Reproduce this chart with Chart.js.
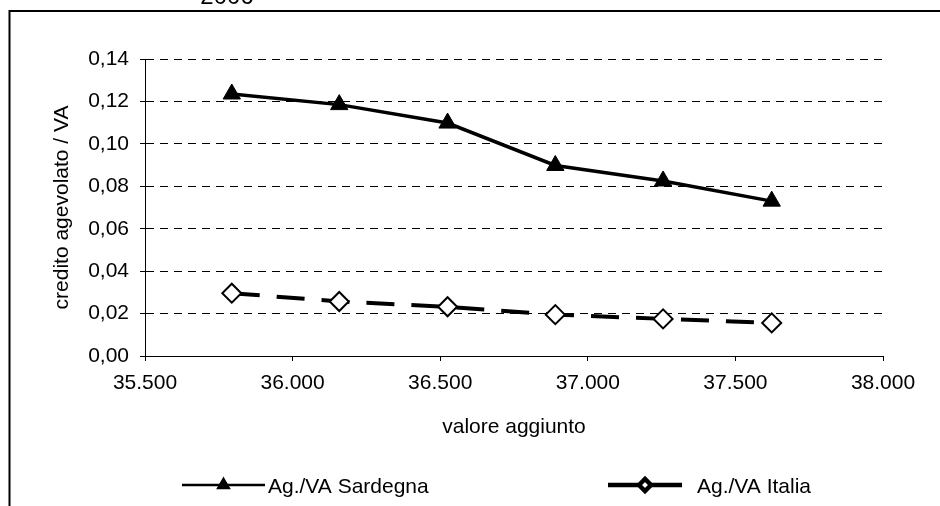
<!DOCTYPE html>
<html>
<head>
<meta charset="utf-8">
<title>credito agevolato / VA</title>
<script src="https://cdn.jsdelivr.net/npm/chart.js@4.4.1/dist/chart.umd.min.js"></script>
<style>
    html, body { margin: 0; padding: 0; background: #fff; overflow: hidden; }
    #wrap { position: relative; width: 940px; height: 506px; }
</style>
</head>
<body>
<div id="wrap"><canvas id="creditChart" width="940" height="506"></canvas></div>
<script>
// valori letti per anno: valore aggiunto (asse x) e rapporto credito agevolato / VA
const valoreAggiunto = [35794, 36158, 36525, 36890, 37255, 37623];
const agSardegna = [0.1235, 0.1185, 0.1098, 0.0898, 0.0825, 0.0730];
const agItalia = [0.0296, 0.0257, 0.0232, 0.0195, 0.0175, 0.0156];
const seriesNames = ['Ag./VA Sardegna', 'Ag./VA Italia'];
const xTickValues = [35500, 36000, 36500, 37000, 37500, 38000];
const yTickValues = [0, 0.02, 0.04, 0.06, 0.08, 0.10, 0.12, 0.14];
const topLabel = '2006';

const FONT = '"Liberation Sans", Arial, sans-serif';

function toPoints(xs, ys) {
    return xs.map((x, i) => ({ x: x, y: ys[i] }));
}

function fmtThousands(v) {
    return Math.round(v).toString().replace(/\B(?=(\d{3})+(?!\d))/g, '.');
}

// cornice esterna + etichetta in alto
const framePlugin = {
    id: 'frame',
    beforeDraw(chart) {
        const ctx = chart.ctx;
        ctx.save();
        ctx.fillStyle = '#fff';
        ctx.fillRect(0, 0, chart.width, chart.height);
        ctx.strokeStyle = '#000';
        ctx.lineWidth = 2;
        ctx.strokeRect(9.5, 11, 1000, 1000);
        ctx.fillStyle = '#000';
        ctx.font = '24px ' + FONT;
        ctx.textAlign = 'center';
        ctx.textBaseline = 'alphabetic';
        ctx.fillText(topLabel, 227, 4);
        ctx.restore();
    }
};

// legenda in basso: linea + marker come nel grafico
const lineLegendPlugin = {
    id: 'lineLegend',
    afterDraw(chart) {
        const ctx = chart.ctx;
        const items = [
            { x1: 182, x2: 265, tx: 268, lw: 2.5, r: 6 },
            { x1: 608, x2: 682, tx: 697, lw: 4.5, r: 6 }
        ];
        const y = 485;
        ctx.save();
        chart.data.datasets.forEach((ds, i) => {
            const it = items[i];
            ctx.strokeStyle = ds.borderColor;
            ctx.lineWidth = it.lw;
            ctx.setLineDash([]);
            ctx.beginPath();
            ctx.moveTo(it.x1, y);
            ctx.lineTo(it.x2, y);
            ctx.stroke();
            ctx.fillStyle = ds.pointBackgroundColor;
            ctx.strokeStyle = ds.pointBorderColor;
            Chart.helpers.drawPoint(ctx, {
                pointStyle: ds.pointStyle,
                radius: it.r,
                borderWidth: 1.5,
                rotation: 0
            }, (it.x1 + it.x2) / 2, y);
            ctx.fillStyle = '#000';
            ctx.font = '21px ' + FONT;
            ctx.textAlign = 'left';
            ctx.textBaseline = 'middle';
            ctx.fillText(ds.label, it.tx, y + 2);
        });
        ctx.restore();
    }
};

const ctx = document.getElementById('creditChart').getContext('2d');
const creditChart = new Chart(ctx, {
    type: 'scatter',
    data: {
        datasets: [{
            label: seriesNames[0],
            data: toPoints(valoreAggiunto, agSardegna),
            showLine: true,
            borderColor: '#000',
            borderWidth: 3.5,
            pointStyle: 'triangle',
            pointRadius: 10,
            pointBackgroundColor: '#000',
            pointBorderColor: '#000',
            pointBorderWidth: 1
        }, {
            label: seriesNames[1],
            data: toPoints(valoreAggiunto, agItalia),
            showLine: true,
            borderColor: '#000',
            borderWidth: 4,
            borderDash: [28, 17],
            pointStyle: 'rectRot',
            pointRadius: 9.5,
            pointBackgroundColor: '#fff',
            pointBorderColor: '#000',
            pointBorderWidth: 2
        }]
    },
    options: {
        responsive: false,
        animation: false,
        layout: { padding: { left: 0, top: 59, right: 57, bottom: 61 } },
        plugins: {
            legend: { display: false },
            tooltip: { enabled: false }
        },
        scales: {
            x: {
                type: 'linear',
                min: xTickValues[0],
                max: xTickValues[xTickValues.length - 1],
                afterBuildTicks: (scale) => { scale.ticks = xTickValues.map(v => ({ value: v })); },
                afterFit: (scale) => { scale.height = 89; },
                border: { display: true, color: '#000', width: 1 },
                grid: {
                    drawOnChartArea: false,
                    drawTicks: true,
                    tickLength: 5,
                    tickColor: '#000',
                    tickWidth: 1
                },
                ticks: {
                    color: '#000',
                    font: { family: FONT, size: 21 },
                    padding: 10,
                    maxRotation: 0,
                    callback: (v) => fmtThousands(v)
                },
                title: {
                    display: true,
                    text: 'valore aggiunto',
                    color: '#000',
                    font: { family: FONT, size: 21 },
                    padding: { top: 0, bottom: 5 }
                }
            },
            y: {
                type: 'linear',
                min: yTickValues[0],
                max: yTickValues[yTickValues.length - 1],
                afterBuildTicks: (scale) => { scale.ticks = yTickValues.map(v => ({ value: v })); },
                afterFit: (scale) => { scale.width = 145; },
                // in Chart.js 4 il tratteggio delle griglie sta in border.dash
                border: { display: true, color: '#000', width: 1, dash: [8, 6] },
                grid: {
                    color: '#000',
                    lineWidth: 1,
                    drawTicks: true,
                    tickLength: 5,
                    tickColor: '#000',
                    tickWidth: 1,
                    tickBorderDash: []
                },
                ticks: {
                    color: '#000',
                    font: { family: FONT, size: 21 },
                    padding: 11,
                    callback: (v) => v.toFixed(2).replace('.', ',')
                },
                title: {
                    display: true,
                    text: 'credito agevolato / VA',
                    color: '#000',
                    font: { family: FONT, size: 21 },
                    padding: { top: 50, bottom: 0 }
                }
            }
        }
    },
    plugins: [framePlugin, lineLegendPlugin]
});
</script>
</body>
</html>
